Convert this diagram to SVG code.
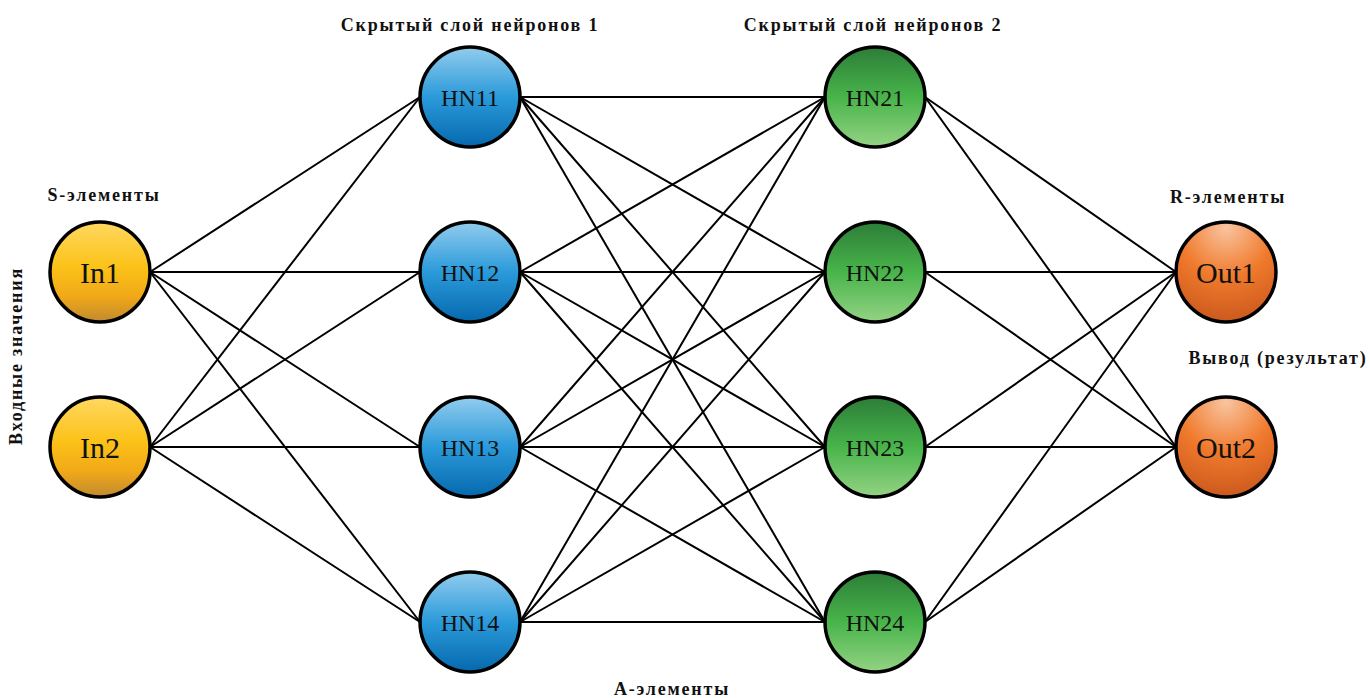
<svg xmlns="http://www.w3.org/2000/svg" width="1370" height="698" viewBox="0 0 1370 698">
<defs>
<linearGradient id="gIn" x1="0" y1="0" x2="0" y2="1">
<stop offset="0" stop-color="#FFD860"/><stop offset="0.45" stop-color="#FCC218"/><stop offset="0.75" stop-color="#F0A818"/><stop offset="1" stop-color="#C08A30"/>
</linearGradient>
<linearGradient id="gH1" x1="0" y1="0" x2="0" y2="1">
<stop offset="0" stop-color="#92CCEE"/><stop offset="0.5" stop-color="#2A9ADA"/><stop offset="1" stop-color="#0668AE"/>
</linearGradient>
<linearGradient id="gH2" x1="0" y1="0" x2="0" y2="1">
<stop offset="0" stop-color="#2C7D38"/><stop offset="0.5" stop-color="#48B44A"/><stop offset="1" stop-color="#94D384"/>
</linearGradient>
<radialGradient id="gOut" cx="0.5" cy="0.1" r="0.95" fx="0.5" fy="0.05">
<stop offset="0" stop-color="#F9C4A0"/><stop offset="0.5" stop-color="#F07A2C"/><stop offset="1" stop-color="#C8561C"/>
</radialGradient>
<style>
.n{stroke:#000;stroke-width:3.5}
text{font-family:"Liberation Serif","Times New Roman",serif}
.t{text-anchor:middle;fill:#111}
.big{font-size:30px}
.hn{font-size:24px}
.h{font-weight:bold;font-size:18px;letter-spacing:1.8px;fill:#111;text-anchor:middle}
#edges line{stroke:#000;stroke-width:2}
</style>
</defs>
<rect width="1370" height="698" fill="#fff"/>
<g id="edges">
<line x1="150" y1="272" x2="420" y2="97"/><line x1="150" y1="272" x2="420" y2="272"/><line x1="150" y1="272" x2="420" y2="447"/><line x1="150" y1="272" x2="420" y2="622"/>
<line x1="150" y1="447" x2="420" y2="97"/><line x1="150" y1="447" x2="420" y2="272"/><line x1="150" y1="447" x2="420" y2="447"/><line x1="150" y1="447" x2="420" y2="622"/>
<line x1="520" y1="97" x2="825" y2="97"/><line x1="520" y1="97" x2="825" y2="272"/><line x1="520" y1="97" x2="825" y2="447"/><line x1="520" y1="97" x2="825" y2="622"/>
<line x1="520" y1="272" x2="825" y2="97"/><line x1="520" y1="272" x2="825" y2="272"/><line x1="520" y1="272" x2="825" y2="447"/><line x1="520" y1="272" x2="825" y2="622"/>
<line x1="520" y1="447" x2="825" y2="97"/><line x1="520" y1="447" x2="825" y2="272"/><line x1="520" y1="447" x2="825" y2="447"/><line x1="520" y1="447" x2="825" y2="622"/>
<line x1="520" y1="622" x2="825" y2="97"/><line x1="520" y1="622" x2="825" y2="272"/><line x1="520" y1="622" x2="825" y2="447"/><line x1="520" y1="622" x2="825" y2="622"/>
<line x1="925" y1="97" x2="1176" y2="272"/><line x1="925" y1="97" x2="1176" y2="447"/>
<line x1="925" y1="272" x2="1176" y2="272"/><line x1="925" y1="272" x2="1176" y2="447"/>
<line x1="925" y1="447" x2="1176" y2="272"/><line x1="925" y1="447" x2="1176" y2="447"/>
<line x1="925" y1="622" x2="1176" y2="272"/><line x1="925" y1="622" x2="1176" y2="447"/>
</g>
<g id="In1"><circle class="n" cx="100" cy="272" r="50" fill="url(#gIn)"/><text class="t big" x="100" y="283" font-family="Liberation Serif, serif">In1</text></g>
<g id="In2"><circle class="n" cx="100" cy="447" r="50" fill="url(#gIn)"/><text class="t big" x="100" y="458" font-family="Liberation Serif, serif">In2</text></g>
<g id="HN11"><circle class="n" cx="470" cy="97" r="50" fill="url(#gH1)"/><text class="t hn" x="470" y="106" font-family="Liberation Serif, serif">HN11</text></g>
<g id="HN12"><circle class="n" cx="470" cy="272" r="50" fill="url(#gH1)"/><text class="t hn" x="470" y="281" font-family="Liberation Serif, serif">HN12</text></g>
<g id="HN13"><circle class="n" cx="470" cy="447" r="50" fill="url(#gH1)"/><text class="t hn" x="470" y="456" font-family="Liberation Serif, serif">HN13</text></g>
<g id="HN14"><circle class="n" cx="470" cy="622" r="50" fill="url(#gH1)"/><text class="t hn" x="470" y="631" font-family="Liberation Serif, serif">HN14</text></g>
<g id="HN21"><circle class="n" cx="875" cy="97" r="50" fill="url(#gH2)"/><text class="t hn" x="875" y="106" font-family="Liberation Serif, serif">HN21</text></g>
<g id="HN22"><circle class="n" cx="875" cy="272" r="50" fill="url(#gH2)"/><text class="t hn" x="875" y="281" font-family="Liberation Serif, serif">HN22</text></g>
<g id="HN23"><circle class="n" cx="875" cy="447" r="50" fill="url(#gH2)"/><text class="t hn" x="875" y="456" font-family="Liberation Serif, serif">HN23</text></g>
<g id="HN24"><circle class="n" cx="875" cy="622" r="50" fill="url(#gH2)"/><text class="t hn" x="875" y="631" font-family="Liberation Serif, serif">HN24</text></g>
<g id="Out1"><circle class="n" cx="1226" cy="272" r="50" fill="url(#gOut)"/><text class="t big" x="1226" y="283" font-family="Liberation Serif, serif">Out1</text></g>
<g id="Out2"><circle class="n" cx="1226" cy="447" r="50" fill="url(#gOut)"/><text class="t big" x="1226" y="458" font-family="Liberation Serif, serif">Out2</text></g>
<g id="labels" font-family="Liberation Serif, serif">
<text class="h" x="470" y="31">Скрытый слой нейронов 1</text>
<text class="h" x="873" y="31">Скрытый слой нейронов 2</text>
<text class="h" x="104" y="201">S-элементы</text>
<text class="h" x="1228" y="203">R-элементы</text>
<text class="h" x="1278" y="364">Вывод (результат)</text>
<text class="h" x="672" y="695">А-элементы</text>
<text class="h" transform="translate(22,356) rotate(-90)">Входные значения</text>
</g>
</svg>
